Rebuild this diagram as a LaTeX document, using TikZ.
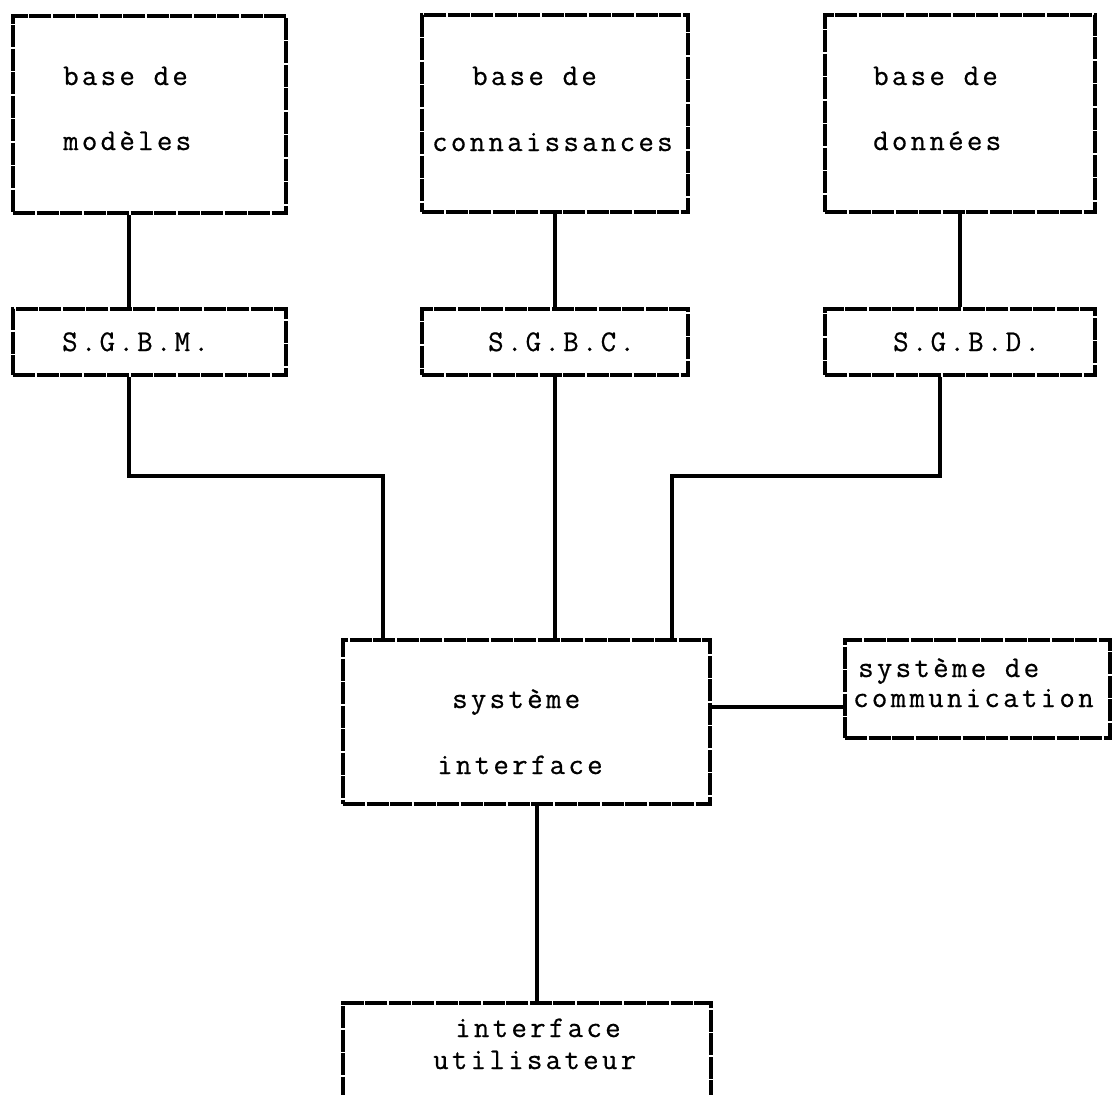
\documentclass[tikz,border=0pt]{standalone}
\usepackage{fontspec}
\newfontfamily\machine[LetterSpace=11,FakeBold=0.6]{Latin Modern Mono}

\begin{document}
\begin{tikzpicture}[x=1pt,y=-1pt,
  boite/.style={draw, line width=4pt, dash pattern=on 22pt off 1.5pt, rectangle, inner sep=0pt},
  texte/.style={font=\machine\fontsize{30}{36}\selectfont, inner sep=0pt, anchor=base west},
  lien/.style={line width=3.6pt}]

\useasboundingbox (0,0) rectangle (1114,1095);
\clip (0,0) rectangle (1114,1095);

% les trois bases
\node[boite, minimum width=273pt, minimum height=197pt] (bm) at (149.5,114.5) {};
\node[boite, minimum width=266pt, minimum height=197pt] (bc) at (555,113.5) {};
\node[boite, minimum width=270pt, minimum height=197pt] (bd) at (960,113.5) {};

\node[texte] (tbm1) at (63,85) {base de};
\node[texte] (tbm2) at (63,150) {modèles};
\node[texte] (tbc1) at (472,85) {base de};
\node[texte] (tbc2) at (432,151) {connaissances};
\node[texte] (tbd1) at (873,85) {base de};
\node[texte] (tbd2) at (873,150) {données};

% les systemes de gestion
\node[boite, minimum width=273pt, minimum height=66pt] (sgbm) at (149.5,342) {};
\node[boite, minimum width=266pt, minimum height=66pt] (sgbc) at (555,342) {};
\node[boite, minimum width=270pt, minimum height=66pt] (sgbd) at (960,342) {};

\node[texte] (tsgbm) at (62,351) {S.G.B.M.};
\node[texte] (tsgbc) at (488,351) {S.G.B.C.};
\node[texte] (tsgbd) at (893,351) {S.G.B.D.};

% systeme interface et le reste
\node[boite, minimum width=367pt, minimum height=164pt] (si) at (526.5,722) {};
\node[boite, minimum width=265pt, minimum height=98pt] (com) at (977.5,689) {};
\node[boite, minimum width=368pt, minimum height=107pt] (iu) at (527,1056.5) {};

\node[texte] (tsi1) at (452,708) {système};
\node[texte] (tsi2) at (437,774) {interface};
\node[texte] (tcom1) at (858,677) {système de};
\node[texte] (tcom2) at (853,707) {communication};
\node[texte] (tiu1) at (455,1037) {interface};
\node[texte] (tiu2) at (433,1069) {utilisateur};

\coordinate (g) at (129,476);
\coordinate (gi) at (383,476);
\coordinate (d) at (940,476);
\coordinate (di) at (672,476);
\coordinate (c) at (777,707);
\coordinate (u) at (537,900);

\draw[lien] (bm.south -| g) -- (sgbm.north -| g);
\draw[lien] (bc.south) -- (sgbc.north);
\draw[lien] (bd.south) -- (sgbd.north);

\draw[lien] (sgbm.south -| g) -- (g) -- (gi) -- (si.north -| gi);
\draw[lien] (sgbc.south) -- (si.north -| sgbc.south);
\draw[lien] (sgbd.south -| d) -- (d) -- (di) -- (si.north -| di);

\draw[lien] (si.east |- c) -- (com.west |- c);
\draw[lien] (si.south -| u) -- (iu.north -| u);

\end{tikzpicture}
\end{document}
